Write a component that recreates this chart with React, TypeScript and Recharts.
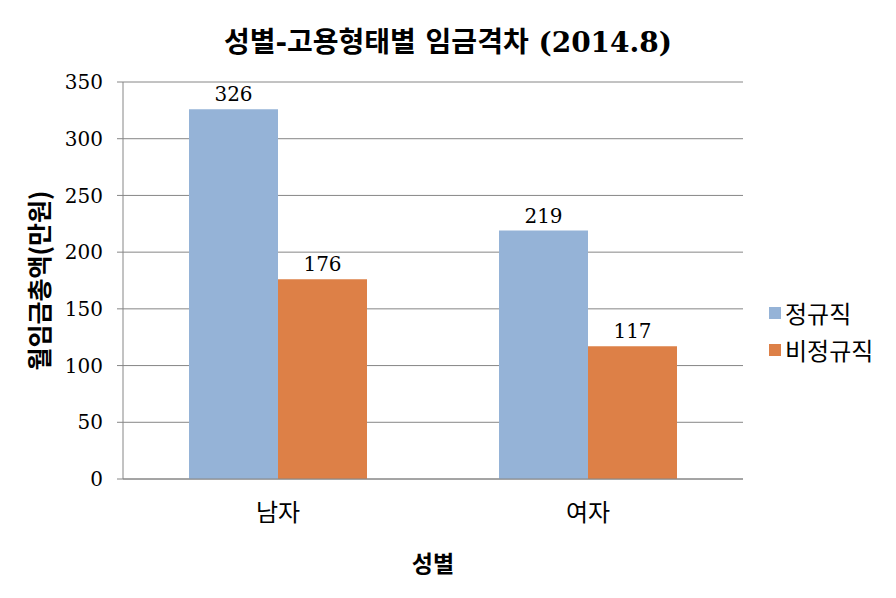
import React from "react";
import { BarChart, Bar, XAxis, YAxis, CartesianGrid, LabelList } from "recharts";

const categories = ["남자", "여자"];
const regular = [326, 219];
const irregular = [176, 117];
const yTicks = [0, 50, 100, 150, 200, 250, 300, 350];

const data = categories.map((c, i) => ({ name: c, 정규직: regular[i], 비정규직: irregular[i] }));

const KR = "'Noto Sans CJK KR', 'Noto Sans', sans-serif";
const SERIF = "'DejaVu Serif', 'Noto Sans CJK KR', serif";
const BLUE = "#95B3D7";
const ORANGE = "#DD8047";
const GRID = "#868686";

function LegendBox() {
  const items = [
    { label: "정규직", color: BLUE },
    { label: "비정규직", color: ORANGE },
  ];
  return (
    <div style={{ position: "absolute", left: 769, top: 294, fontFamily: KR }}>
      {items.map((it) => (
        <div key={it.label} style={{ display: "flex", alignItems: "center", height: 37 }}>
          <span style={{ width: 12, height: 12, background: it.color, marginRight: 4 }} />
          <span style={{ fontSize: 24, color: "#000" }}>{it.label}</span>
        </div>
      ))}
    </div>
  );
}

export default function App() {
  return (
    <div style={{ position: "absolute", left: 0, top: 0, width: 896, height: 598, background: "#fff" }}>
      <div
        style={{
          position: "absolute",
          top: 20,
          left: 0,
          width: 896,
          textAlign: "center",
          fontFamily: SERIF,
          fontWeight: "bold",
          fontSize: 28,
          color: "#000",
        }}
      >
        성별-고용형태별 임금격차 (2014.8)
      </div>
      <BarChart
        width={896}
        height={598}
        data={data}
        margin={{ top: 82, right: 153, bottom: 0, left: 0 }}
        barCategoryGap={66}
        barGap={0}
      >
        <CartesianGrid vertical={false} stroke={GRID} />
        <XAxis
          dataKey="name"
          stroke={GRID}
          tickLine={false}
          tick={{ fontFamily: KR, fontSize: 24, fill: "#000" }}
          tickMargin={19}
          height={119}
          label={{
            value: "성별",
            position: "insideBottom",
            offset: 26,
            style: { fontFamily: KR, fontSize: 23, fontWeight: "bold", fill: "#000" },
          }}
        />
        <YAxis
          width={123}
          domain={[0, 350]}
          ticks={yTicks}
          stroke={GRID}
          tickSize={6}
          tick={{ fontFamily: SERIF, fontSize: 20, fill: "#000" }}
          tickMargin={14}
          label={{
            value: "월임금총액(만원)",
            angle: -90,
            position: "insideLeft",
            offset: 40,
            style: { fontFamily: KR, fontSize: 25, fontWeight: "bold", fill: "#000", textAnchor: "middle" },
          }}
        />
        <Bar dataKey="정규직" fill={BLUE} isAnimationActive={false}>
          <LabelList dataKey="정규직" position="top" offset={8} style={{ fontFamily: SERIF, fontSize: 20, fill: "#000" }} />
        </Bar>
        <Bar dataKey="비정규직" fill={ORANGE} isAnimationActive={false}>
          <LabelList dataKey="비정규직" position="top" offset={8} style={{ fontFamily: SERIF, fontSize: 20, fill: "#000" }} />
        </Bar>
      </BarChart>
      <LegendBox />
    </div>
  );
}
